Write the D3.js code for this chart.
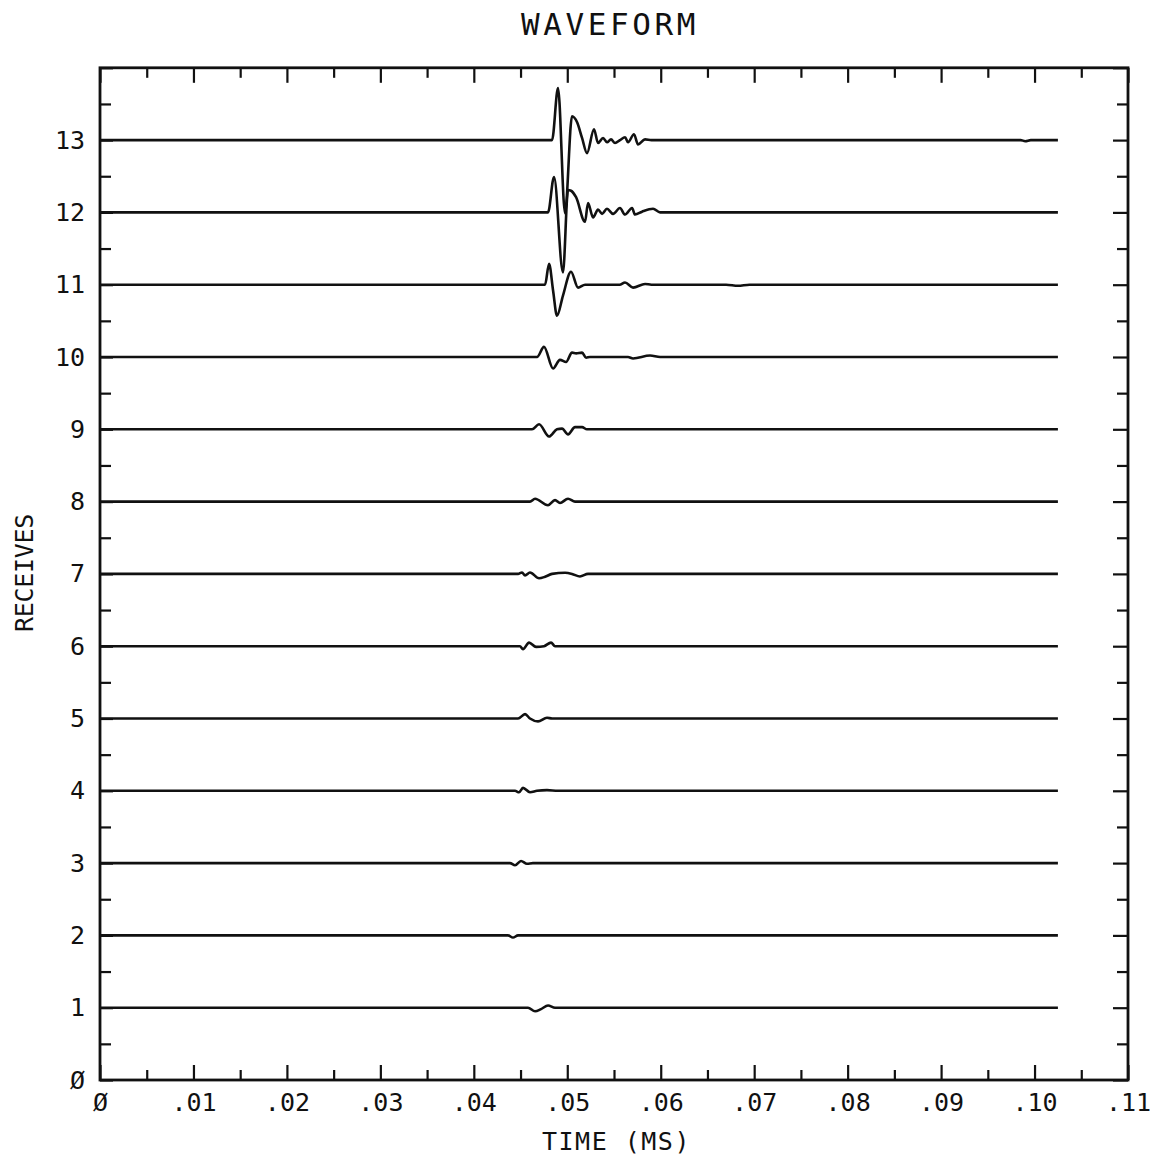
<!DOCTYPE html>
<html>
<head>
<meta charset="utf-8">
<script src="https://cdn.jsdelivr.net/npm/d3@7"></script>
<style>
  body { margin: 0; background: #fff; }
  text { font-family: "DejaVu Sans Mono", monospace; fill: #111; }
</style>
</head>
<body>
<script>

// receiver numbers (one trace each) and axis labels
var receivers = [1, 2, 3, 4, 5, 6, 7, 8, 9, 10, 11, 12, 13];
var xTicks = [0, .01, .02, .03, .04, .05, .06, .07, .08, .09, .10, .11];
var xTickLabels = ["Ø", ".01", ".02", ".03", ".04", ".05", ".06", ".07", ".08", ".09", ".10", ".11"];
var xMinor = [.005, .015, .025, .035, .045, .055, .065, .075, .085, .095, .105];
var yTicks = [0, 1, 2, 3, 4, 5, 6, 7, 8, 9, 10, 11, 12, 13, 14];
var yTickLabels = ["Ø", "1", "2", "3", "4", "5", "6", "7", "8", "9", "10", "11", "12", "13", ""];
var yMinor = [.5, 1.5, 2.5, 3.5, 4.5, 5.5, 6.5, 7.5, 8.5, 9.5, 10.5, 11.5, 12.5, 13.5];

// each trace: [time (ms), amplitude in receiver spacings]
var trace1 = [[0,0],[0.04580,0],[0.04655,-0.05],[0.04719,-0.02],[0.04794,0.03],[0.04869,0],[0.1025,0]];
var trace2 = [[0,0],[0.04366,0],[0.04419,-0.03],[0.04473,0],[0.1025,0]];
var trace3 = [[0,0],[0.04387,0],[0.04441,-0.03],[0.04505,0.03],[0.04569,-0.01],[0.04633,0],[0.1025,0]];
var trace4 = [[0,0],[0.04441,0],[0.04484,-0.02],[0.04526,0.04],[0.04601,-0.02],[0.04676,0],[0.04783,0.01],[0.04900,0],[0.1025,0]];
var trace5 = [[0,0],[0.04473,0],[0.04548,0.06],[0.04601,0],[0.04687,-0.04],[0.04783,0.01],[0.04837,0],[0.1025,0]];
var trace6 = [[0,0],[0.04494,0],[0.04526,-0.04],[0.04591,0.05],[0.04666,-0.01],[0.04751,0],[0.04826,0.05],[0.04869,0],[0.1025,0]];
var trace7 = [[0,0],[0.04473,0],[0.04516,0.02],[0.04548,-0.02],[0.04601,0.02],[0.04698,-0.06],[0.04762,-0.04],[0.04837,0],[0.04976,0.015],[0.05051,0],[0.05136,-0.035],[0.05222,0],[0.1025,0]];
var trace8 = [[0,0],[0.04601,0],[0.04655,0.04],[0.04794,-0.05],[0.04869,0.02],[0.04922,-0.02],[0.05008,0.04],[0.05083,0],[0.1025,0]];
var trace9 = [[0,0],[0.04623,0],[0.04698,0.07],[0.04805,-0.10],[0.04890,0],[0.04944,0.01],[0.05008,-0.07],[0.05083,0.03],[0.05158,0.03],[0.05211,0],[0.1025,0]];
var trace10 = [[0,0],[0.04676,0],[0.04751,0.14],[0.04848,-0.16],[0.04922,-0.04],[0.04987,-0.07],[0.05051,0.06],[0.05094,0.05],[0.05158,0.06],[0.05201,-0.01],[0.05243,0],[0.05650,0],[0.05704,-0.02],[0.05886,0.02],[0.05993,0],[0.1025,0]];
var trace11 = [[0,0],[0.04762,0],[0.04805,0.29],[0.04848,-0.08],[0.04890,-0.43],[0.04954,-0.15],[0.05040,0.18],[0.05115,-0.04],[0.05190,0],[0.05560,0],[0.05618,0.03],[0.05704,-0.04],[0.05832,0.01],[0.0590,0],[0.0670,0],[0.06827,-0.015],[0.0695,0],[0.1025,0]];
var trace12 = [[0,0],[0.04794,0],[0.04858,0.49],[0.04954,-0.83],[0.05008,0.31],[0.05040,0.30],[0.05094,0.21],[0.05190,-0.13],[0.05222,0.13],[0.05276,-0.07],[0.05329,0.04],[0.05372,-0.02],[0.05425,0.05],[0.05490,-0.02],[0.05564,0.06],[0.05618,-0.03],[0.05693,0.06],[0.05725,-0.03],[0.05800,0.01],[0.05918,0.05],[0.05993,0],[0.1025,0]];
var trace13 = [[0,0],[0.04837,0],[0.04901,0.72],[0.04976,-1.01],[0.05051,0.33],[0.05104,0.25],[0.05158,0.03],[0.05211,-0.18],[0.05286,0.15],[0.05329,-0.04],[0.05383,0.03],[0.05425,-0.03],[0.05468,0.01],[0.05511,-0.04],[0.05564,0],[0.05618,0.04],[0.05650,-0.03],[0.05714,0.08],[0.05757,-0.06],[0.05832,0.01],[0.05900,0],[0.0985,0],[0.0990,-0.015],[0.0996,0],[0.1025,0]];

var traces = [trace1, trace2, trace3, trace4, trace5, trace6, trace7, trace8, trace9, trace10, trace11, trace12, trace13];

var width = 1159, height = 1161;
var padL = 100, padR = 1128, padT = 67.8, padB = 1080;

var svg = d3.select("body").append("svg")
    .attr("width", width)
    .attr("height", height);

var x = d3.scaleLinear().domain([0, 0.11]).range([padL, padR]);
var y = d3.scaleLinear().domain([0, 14]).range([padB, padT]);

// title + axis titles
svg.append("text")
    .attr("x", 521).attr("y", 35)
    .style("font-size", "31px")
    .style("letter-spacing", "3.6px")
    .text("WAVEFORM");

svg.append("text")
    .attr("x", 542).attr("y", 1150)
    .style("font-size", "25px")
    .style("letter-spacing", "1.5px")
    .text("TIME (MS)");

svg.append("text")
    .attr("transform", "translate(33,573) rotate(-90)")
    .attr("text-anchor", "middle")
    .style("font-size", "25px")
    .style("letter-spacing", "-0.3px")
    .text("RECEIVES");

// axes: ticks point into the frame
function styleAxis(g) {
  g.select(".domain").remove();
  g.selectAll("line").attr("stroke", "#111").attr("stroke-width", 2.2);
  g.selectAll("text").style("font-size", "25px").style("font-family", "DejaVu Sans Mono, monospace").attr("fill", "#111");
}

svg.append("g").attr("transform", "translate(0," + padB + ")")
    .call(d3.axisBottom(x).tickValues(xTicks).tickFormat((d, i) => xTickLabels[i]).tickSizeInner(-15).tickSizeOuter(0).tickPadding(13))
    .call(styleAxis);
svg.append("g").attr("transform", "translate(0," + padB + ")")
    .call(d3.axisBottom(x).tickValues(xMinor).tickFormat("").tickSizeInner(-10).tickSizeOuter(0))
    .call(styleAxis);
svg.append("g").attr("transform", "translate(0," + padT + ")")
    .call(d3.axisTop(x).tickValues(xTicks).tickFormat("").tickSizeInner(-15).tickSizeOuter(0))
    .call(styleAxis);
svg.append("g").attr("transform", "translate(0," + padT + ")")
    .call(d3.axisTop(x).tickValues(xMinor).tickFormat("").tickSizeInner(-10).tickSizeOuter(0))
    .call(styleAxis);

svg.append("g").attr("transform", "translate(" + padL + ",0)")
    .call(d3.axisLeft(y).tickValues(yTicks).tickFormat((d, i) => yTickLabels[i]).tickSizeInner(-13).tickSizeOuter(0).tickPadding(15))
    .call(styleAxis);
svg.append("g").attr("transform", "translate(" + padL + ",0)")
    .call(d3.axisLeft(y).tickValues(yMinor).tickFormat("").tickSizeInner(-11).tickSizeOuter(0))
    .call(styleAxis);
svg.append("g").attr("transform", "translate(" + padR + ",0)")
    .call(d3.axisRight(y).tickValues(yTicks).tickFormat("").tickSizeInner(-15).tickSizeOuter(0))
    .call(styleAxis);
svg.append("g").attr("transform", "translate(" + padR + ",0)")
    .call(d3.axisRight(y).tickValues(yMinor).tickFormat("").tickSizeInner(-11).tickSizeOuter(0))
    .call(styleAxis);

// frame
svg.append("rect")
    .attr("x", padL).attr("y", padT)
    .attr("width", padR - padL).attr("height", padB - padT)
    .attr("fill", "none")
    .attr("stroke", "#111")
    .attr("stroke-width", 2.8);

// the waveforms, each offset to its receiver number
var line = d3.line().curve(d3.curveMonotoneX);

svg.append("g").selectAll("path")
    .data(traces)
    .enter().append("path")
    .attr("fill", "none")
    .attr("stroke", "#111")
    .attr("stroke-width", 2.6)
    .attr("stroke-linejoin", "round")
    .attr("d", function (d, i) {
      var r = receivers[i];
      return line(d.map(p => [x(p[0]), y(r + p[1])]));
    });

</script>
</body>
</html>
